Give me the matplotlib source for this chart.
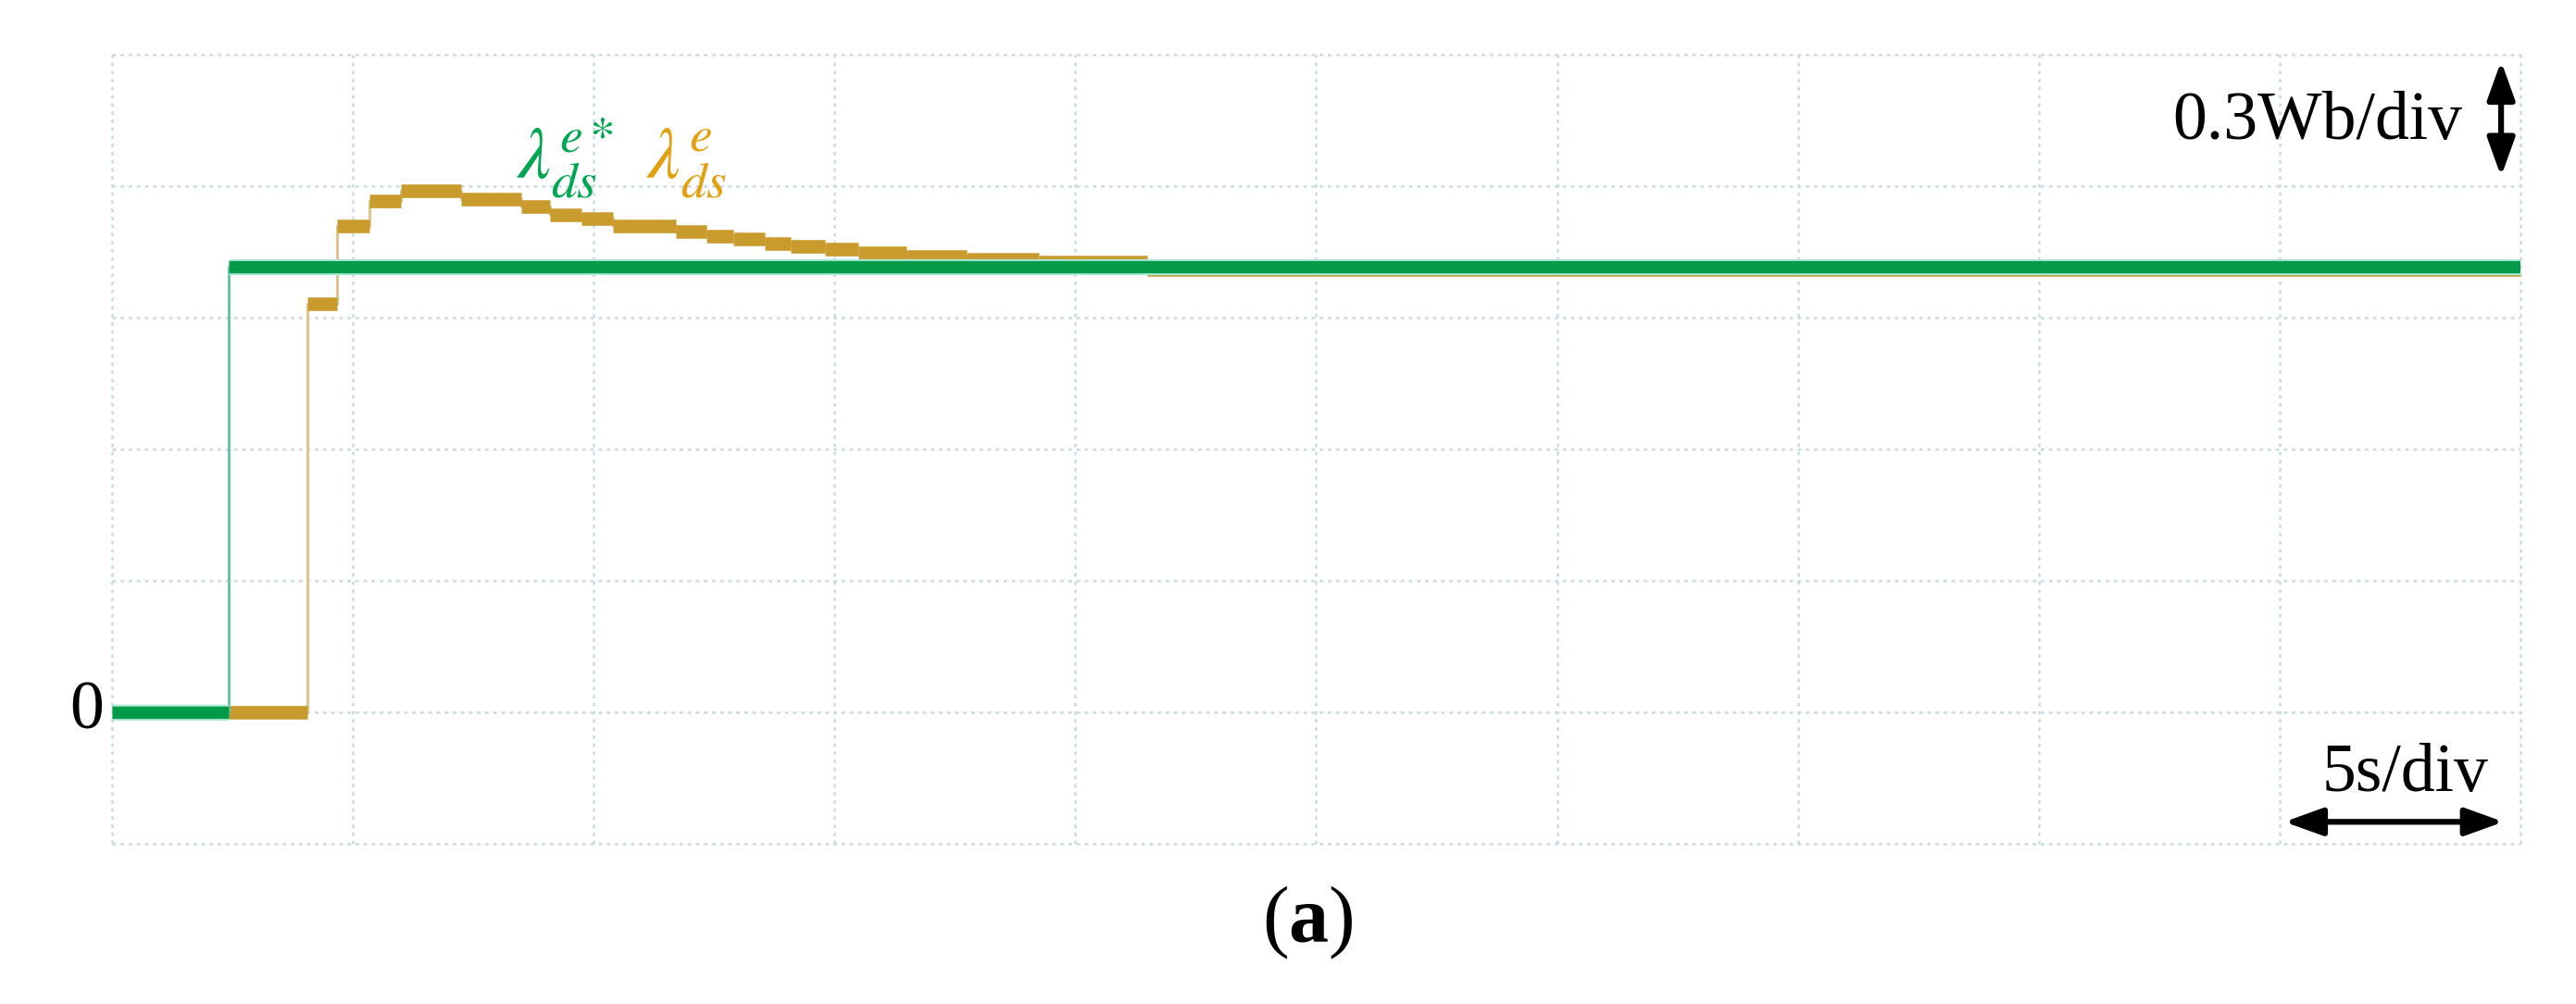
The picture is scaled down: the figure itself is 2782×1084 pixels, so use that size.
import matplotlib.pyplot as plt

plt.rcParams['font.family'] = ['Liberation Serif', 'DejaVu Serif']
plt.rcParams['mathtext.fontset'] = 'custom'
plt.rcParams['mathtext.rm'] = 'Liberation Serif'
plt.rcParams['mathtext.bf'] = 'Liberation Serif:bold'

# scope settings: 5 s/div, 0.3 Wb/div
t_div = 5.0
y_div = 0.3

# flux reference (green): step at ~2.4 s
ref_t = [0.0, 2.43, 50.0]
ref_v = [0.0, 1.017]

# measured flux (orange): quantised steps, edges in s, levels in Wb
meas_t = [0.0, 4.05, 4.68, 5.35, 6.0, 7.25, 8.5, 9.1, 9.75, 10.4, 11.7,
          12.35, 12.9, 13.55, 14.1, 14.8, 15.5, 16.5, 17.75, 19.25, 21.5, 50.0]
meas_v = [0.0, 0.932, 1.11, 1.167, 1.19, 1.17, 1.154, 1.134, 1.125, 1.11,
          1.097, 1.086, 1.08, 1.068, 1.062, 1.056, 1.047, 1.04, 1.034, 1.026, 1.01]

green = '#009a48'
green_haze = '#a6e8d3'
green_thin = '#6cc3a5'
orange = '#c99b2c'
orange_thin = '#dcc58e'

fig = plt.figure(figsize=(27.82, 10.84), dpi=100)
ax = fig.add_axes([0.0435, 0.1596, 0.9349, 0.786])
ax.set_xlim(0, 10 * t_div)
ax.set_ylim(-1 * y_div, 5 * y_div)
for s in ax.spines.values():
    s.set_visible(False)
ax.set_xticks([])
ax.set_yticks([])

# dotted scope grid
grid_c = '#c8dbe3'
for i in range(11):
    ax.axvline(i * t_div, color=grid_c, lw=1.8, ls=(0, (1.5, 2.0)), clip_on=False, zorder=0)
for j in range(-1, 6):
    ax.axhline(j * y_div, color=grid_c, lw=1.8, ls=(0, (1.5, 2.0)), clip_on=False, zorder=0)

# measured flux
ax.plot(meas_t, meas_v + [meas_v[-1]], drawstyle='steps-post', color=orange_thin, lw=2.2, zorder=2)
ax.hlines(meas_v, meas_t[:-1], meas_t[1:], color=orange, lw=10.5, zorder=3)

# reference flux
ax.plot(ref_t, ref_v + [ref_v[-1]], drawstyle='steps-post', color=green_thin, lw=2.2, zorder=4)
ax.hlines(ref_v, ref_t[:-1], ref_t[1:], color=green_haze, lw=12.5, zorder=5)
ax.hlines(ref_v, ref_t[:-1], ref_t[1:], color=green, lw=9.5, zorder=6)

# labels
ax.text(8.4, 1.217, r'$\lambda_{ds}^{e*}$', color='#00a651', fontsize=57,
        math_fontfamily='stix', ha='left', va='baseline')
ax.text(11.1, 1.217, r'$\lambda_{ds}^{e}$', color='#e3a010', fontsize=57,
        math_fontfamily='stix', ha='left', va='baseline')

ax.text(-0.17, -0.036, '0', fontsize=53, ha='right', va='baseline')
ax.text(48.79, 1.308, '0.3Wb/div', fontsize=53, ha='right', va='baseline')
ax.text(47.6, -0.18, '5s/div', fontsize=53, ha='center', va='baseline')

arrow = dict(arrowstyle='<|-|>,head_length=1.25,head_width=0.45', mutation_scale=20,
             color='black', lw=4.5, shrinkA=0, shrinkB=0)
ax.annotate('', xy=(49.6, 1.485), xytext=(49.6, 1.222), arrowprops=arrow, annotation_clip=False)
ax.annotate('', xy=(49.65, -0.25), xytext=(45.1, -0.25), arrowprops=arrow, annotation_clip=False)

fig.text(0.5076, 0.0803, r'$\mathrm{(}\mathbf{a}\mathrm{)}$', fontsize=62, ha='center', va='center')

fig.savefig('out.png', dpi=100, facecolor='white')
